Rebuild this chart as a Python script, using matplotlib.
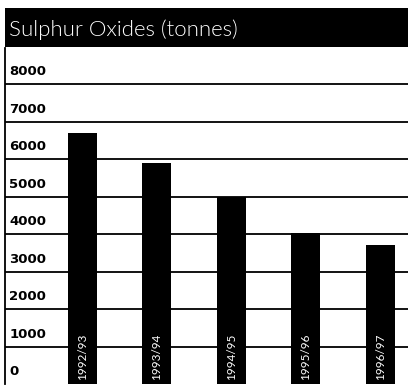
import matplotlib
matplotlib.use('Agg')
from matplotlib import pyplot as plt

years = ['1992/93', '1993/94', '1994/95', '1995/96', '1996/97']
sox = [6700, 5900, 4980, 4020, 3700]
yticks = [0, 1000, 2000, 3000, 4000, 5000, 6000, 7000, 8000]

W, H = 408, 385
fig = plt.figure(figsize=(W / 100, H / 100), dpi=100)

# plot area: left edge x=5px, top y=48px, baseline y=384px
ax = fig.add_axes([5 / W, 1 / H, 403 / W, 336 / H])
x = list(range(len(years)))
ax.bar(x, sox, width=0.39, color='black', zorder=3)
ax.set_xlim(-1.04, 4.37)
ax.set_ylim(0, 8960)

for v in yticks[1:]:
    ax.axhline(v, color='black', lw=1.3, zorder=1)
for v in yticks:
    ax.annotate(str(v), (0, v), xycoords=('axes fraction', 'data'),
                xytext=(3, 4), textcoords='offset points',
                ha='left', va='bottom', fontsize=9.5, fontweight='bold',
                family='DejaVu Sans')

for xi, lab in zip(x, years):
    ax.text(xi, 100, lab, rotation=90, ha='center', va='bottom',
            color='white', fontsize=8.5, family='Lato', zorder=5)

for s in ['top', 'right', 'bottom']:
    ax.spines[s].set_visible(False)
ax.spines['left'].set_linewidth(1.3)
ax.set_xticks([])
ax.set_yticks([])

# black title band
tax = fig.add_axes([5 / W, (H - 47) / H, 403 / W, 39 / H])
tax.set_facecolor('black')
tax.set_xticks([])
tax.set_yticks([])
for s in tax.spines.values():
    s.set_visible(False)
tax.text(0.01, 0.45, 'Sulphur Oxides (tonnes)', color='white', fontsize=16,
         family='Lato', fontweight=300, va='center', ha='left',
         transform=tax.transAxes)

fig.savefig('out.png', dpi=100)
